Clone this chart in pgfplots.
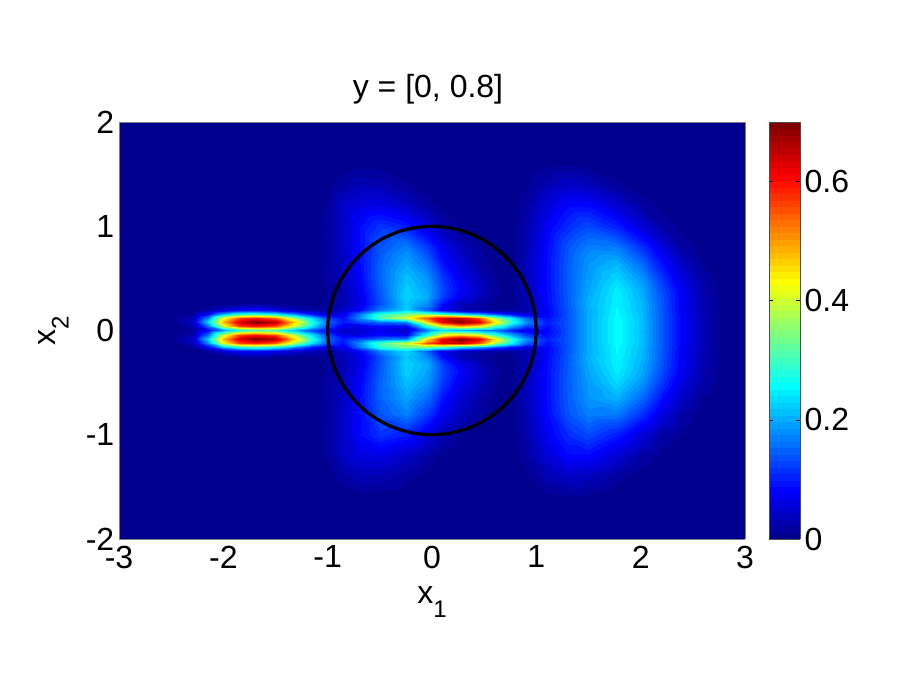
\documentclass[border=0pt]{standalone}
\usepackage{fontspec}
\setmainfont{Liberation Sans}
\usepackage{pgfplots}
\usepackage{pgfplotstable}
\pgfplotsset{compat=1.18}
\pgfplotsset{/pgf/number format/assume math mode=true,
 colormap={jetm}{rgb255(0)=(0,0,143) rgb255(7)=(0,0,255) rgb255(23)=(0,255,255) rgb255(39)=(255,255,0) rgb255(55)=(255,0,0) rgb255(63)=(128,0,0)},
 colormap={jet64}{samples of colormap=(64 of jetm)}}
\newcommand{\tfont}{\fontsize{24}{26}\selectfont}
\newcommand{\subone}[1]{\raisebox{-0.42em}{\fontsize{18}{20}\selectfont #1}}
\pgfplotstableread{
x y v
-3 0 0
-2.5 0 .001
-2.3 0 .01
-2.15 0 .08
-2 0 .18
-1.85 0 .27
-1.7 0 .3
-1.5 0 .3
-1.3 0 .2
-1.15 0 .13
-1 0 .08
-.85 0 .04
-.7 0 .05
-.5 0 .07
-.25 0 .04
-.05 0 .17
.1 0 .24
.27 0 .21
.45 0 .18
.6 0 .16
.75 0 .11
.9 0 .06
1.1 0 .08
1.3 0 .14
1.5 0 .2
1.77 0 .26
2 0 .215
2.2 0 .14
2.4 0 .08
2.6 0 .03
2.8 0 .004
3 0 0
-3 .04 0
-2.5 .04 .002
-2.3 .04 .025
-2.15 .04 .16
-2 .04 .4
-1.85 .04 .56
-1.7 .04 .6
-1.5 .04 .56
-1.3 .04 .38
-1.15 .04 .24
-1 .04 .13
-.85 .04 .07
-.7 .04 .06
-.5 .04 .09
-.25 .04 .08
-.05 .04 .28
.1 .04 .42
.27 .04 .48
.45 .04 .44
.6 .04 .31
.75 .04 .21
.9 .04 .13
1.1 .04 .09
1.3 .04 .14
1.5 .04 .2
1.77 .04 .26
2 .04 .215
2.2 .04 .14
2.4 .04 .08
2.6 .04 .03
2.8 .04 .004
3 .04 0
-3 .08 0
-2.5 .08 .004
-2.3 .08 .04
-2.15 .08 .23
-2 .08 .48
-1.85 .08 .63
-1.7 .08 .7
-1.5 .08 .66
-1.3 .08 .45
-1.15 .08 .28
-1 .08 .15
-.85 .08 .1
-.7 .08 .13
-.5 .08 .16
-.25 .08 .17
-.05 .08 .45
.1 .08 .62
.27 .08 .7
.45 .08 .63
.6 .08 .45
.75 .08 .3
.9 .08 .18
1.1 .08 .1
1.3 .08 .14
1.5 .08 .2
1.77 .08 .26
2 .08 .215
2.2 .08 .14
2.4 .08 .08
2.6 .08 .03
2.8 .08 .004
3 .08 0
-3 .12 0
-2.5 .12 .003
-2.3 .12 .03
-2.15 .12 .18
-2 .12 .42
-1.85 .12 .56
-1.7 .12 .59
-1.5 .12 .54
-1.3 .12 .36
-1.15 .12 .23
-1 .12 .13
-.85 .12 .09
-.7 .12 .18
-.5 .12 .31
-.25 .12 .4
-.05 .12 .55
.1 .12 .63
.27 .12 .64
.45 .12 .55
.6 .12 .38
.75 .12 .27
.9 .12 .15
1.1 .12 .09
1.3 .12 .14
1.5 .12 .2
1.77 .12 .26
2 .12 .215
2.2 .12 .14
2.4 .12 .08
2.6 .12 .03
2.8 .12 .004
3 .12 0
-3 .16 0
-2.5 .16 .001
-2.3 .16 .01
-2.15 .16 .08
-2 .16 .2
-1.85 .16 .28
-1.7 .16 .3
-1.5 .16 .26
-1.3 .16 .17
-1.15 .16 .1
-1 .16 .06
-.85 .16 .07
-.7 .16 .16
-.5 .16 .29
-.25 .16 .34
-.05 .16 .35
.1 .16 .31
.27 .16 .25
.45 .16 .2
.6 .16 .14
.75 .16 .1
.9 .16 .06
1.1 .16 .08
1.3 .16 .14
1.5 .16 .2
1.77 .16 .255
2 .16 .213
2.2 .16 .14
2.4 .16 .078
2.6 .16 .028
2.8 .16 .004
3 .16 0
-3 .2 0
-2.5 .2 0
-2.3 .2 .002
-2.15 .2 .015
-2 .2 .05
-1.85 .2 .08
-1.7 .2 .09
-1.5 .2 .07
-1.3 .2 .04
-1.15 .2 .025
-1 .2 .02
-.85 .2 .045
-.7 .2 .08
-.5 .2 .17
-.25 .2 .23
-.05 .2 .15
.1 .2 .07
.27 .2 .035
.45 .2 .022
.6 .2 .014
.75 .2 .014
.9 .2 .025
1.1 .2 .08
1.3 .2 .14
1.5 .2 .2
1.77 .2 .255
2 .2 .21
2.2 .2 .138
2.4 .2 .076
2.6 .2 .028
2.8 .2 .003
3 .2 0
-3 .25 0
-2.5 .25 0
-2.3 .25 0
-2.15 .25 .001
-2 .25 .004
-1.85 .25 .01
-1.7 .25 .015
-1.5 .25 .01
-1.3 .25 .005
-1.15 .25 .004
-1 .25 .014
-.85 .25 .032
-.7 .25 .062
-.5 .25 .135
-.25 .25 .22
-.05 .25 .18
.1 .25 .09
.27 .25 .035
.45 .25 .017
.6 .25 .007
.75 .25 .004
.9 .25 .03
1.1 .25 .085
1.3 .25 .145
1.5 .25 .205
1.77 .25 .25
2 .25 .21
2.2 .25 .138
2.4 .25 .076
2.6 .25 .027
2.8 .25 .003
3 .25 0
-3 .32 0
-2.5 .32 0
-2.3 .32 0
-2.15 .32 0
-2 .32 0
-1.85 .32 0
-1.7 .32 0
-1.5 .32 0
-1.3 .32 0
-1.15 .32 0
-1 .32 .012
-.85 .32 .03
-.7 .32 .065
-.5 .32 .14
-.25 .32 .23
-.05 .32 .2
.1 .32 .125
.27 .32 .07
.45 .32 .035
.6 .32 .012
.75 .32 .003
.9 .32 .03
1.1 .32 .085
1.3 .32 .145
1.5 .32 .2
1.77 .32 .25
2 .32 .205
2.2 .32 .135
2.4 .32 .075
2.6 .32 .027
2.8 .32 .003
3 .32 0
-3 .4 0
-2.5 .4 0
-2.3 .4 0
-2.15 .4 0
-2 .4 0
-1.85 .4 0
-1.7 .4 0
-1.5 .4 0
-1.3 .4 0
-1.15 .4 .002
-1 .4 .013
-.85 .4 .035
-.7 .4 .07
-.5 .4 .145
-.25 .4 .225
-.05 .4 .195
.1 .4 .13
.27 .4 .08
.45 .4 .04
.6 .4 .014
.75 .4 .004
.9 .4 .035
1.1 .4 .09
1.3 .4 .145
1.5 .4 .195
1.77 .4 .245
2 .4 .2
2.2 .4 .13
2.4 .4 .07
2.6 .4 .025
2.8 .4 .003
3 .4 0
-3 .5 0
-2.5 .5 0
-2.3 .5 0
-2.15 .5 0
-2 .5 0
-1.85 .5 0
-1.7 .5 0
-1.5 .5 0
-1.3 .5 0
-1.15 .5 .003
-1 .5 .015
-.85 .5 .04
-.7 .5 .08
-.5 .5 .15
-.25 .5 .215
-.05 .5 .185
.1 .5 .12
.27 .5 .07
.45 .5 .036
.6 .5 .012
.75 .5 .003
.9 .5 .035
1.1 .5 .09
1.3 .5 .145
1.5 .5 .19
1.77 .5 .23
2 .5 .185
2.2 .5 .115
2.4 .5 .06
2.6 .5 .02
2.8 .5 .002
3 .5 0
-3 .65 0
-2.5 .65 0
-2.3 .65 0
-2.15 .65 0
-2 .65 0
-1.85 .65 0
-1.7 .65 0
-1.5 .65 0
-1.3 .65 0
-1.15 .65 .003
-1 .65 .016
-.85 .65 .042
-.7 .65 .085
-.5 .65 .15
-.25 .65 .195
-.05 .65 .155
.1 .65 .095
.27 .65 .052
.45 .65 .02
.6 .65 .006
.75 .65 .002
.9 .65 .035
1.1 .65 .09
1.3 .65 .145
1.5 .65 .185
1.77 .65 .205
2 .65 .155
2.2 .65 .09
2.4 .65 .04
2.6 .65 .01
2.8 .65 .001
3 .65 0
-3 .8 0
-2.5 .8 0
-2.3 .8 0
-2.15 .8 0
-2 .8 0
-1.85 .8 0
-1.7 .8 0
-1.5 .8 0
-1.3 .8 0
-1.15 .8 .003
-1 .8 .016
-.85 .8 .045
-.7 .8 .085
-.5 .8 .14
-.25 .8 .17
-.05 .8 .12
.1 .8 .072
.27 .8 .036
.45 .8 .013
.6 .8 .003
.75 .8 .001
.9 .8 .03
1.1 .8 .085
1.3 .8 .14
1.5 .8 .17
1.77 .8 .165
2 .8 .115
2.2 .8 .06
2.4 .8 .02
2.6 .8 .004
2.8 .8 0
3 .8 0
-3 1 0
-2.5 1 0
-2.3 1 0
-2.15 1 0
-2 1 0
-1.85 1 0
-1.7 1 0
-1.5 1 0
-1.3 1 0
-1.15 1 .003
-1 1 .016
-.85 1 .045
-.7 1 .085
-.5 1 .115
-.25 1 .1
-.05 1 .06
.1 1 .026
.27 1 .008
.45 1 .002
.6 1 0
.75 1 0
.9 1 .025
1.1 1 .075
1.3 1 .11
1.5 1 .13
1.77 1 .1
2 1 .055
2.2 1 .02
2.4 1 .005
2.6 1 0
2.8 1 0
3 1 0
-3 1.2 0
-2.5 1.2 0
-2.3 1.2 0
-2.15 1.2 0
-2 1.2 0
-1.85 1.2 0
-1.7 1.2 0
-1.5 1.2 0
-1.3 1.2 0
-1.15 1.2 .002
-1 1.2 .013
-.85 1.2 .045
-.7 1.2 .06
-.5 1.2 .065
-.25 1.2 .042
-.05 1.2 .018
.1 1.2 .005
.27 1.2 .001
.45 1.2 0
.6 1.2 0
.75 1.2 0
.9 1.2 .018
1.1 1.2 .055
1.3 1.2 .085
1.5 1.2 .085
1.77 1.2 .05
2 1.2 .02
2.2 1.2 .005
2.4 1.2 0
2.6 1.2 0
2.8 1.2 0
3 1.2 0
-3 1.4 0
-2.5 1.4 0
-2.3 1.4 0
-2.15 1.4 0
-2 1.4 0
-1.85 1.4 0
-1.7 1.4 0
-1.5 1.4 0
-1.3 1.4 0
-1.15 1.4 0
-1 1.4 .006
-.85 1.4 .018
-.7 1.4 .032
-.5 1.4 .03
-.25 1.4 .014
-.05 1.4 .003
.1 1.4 0
.27 1.4 0
.45 1.4 0
.6 1.4 0
.75 1.4 0
.9 1.4 .008
1.1 1.4 .028
1.3 1.4 .045
1.5 1.4 .038
1.77 1.4 .015
2 1.4 .003
2.2 1.4 0
2.4 1.4 0
2.6 1.4 0
2.8 1.4 0
3 1.4 0
-3 1.6 0
-2.5 1.6 0
-2.3 1.6 0
-2.15 1.6 0
-2 1.6 0
-1.85 1.6 0
-1.7 1.6 0
-1.5 1.6 0
-1.3 1.6 0
-1.15 1.6 0
-1 1.6 0
-.85 1.6 .003
-.7 1.6 .006
-.5 1.6 .004
-.25 1.6 .001
-.05 1.6 0
.1 1.6 0
.27 1.6 0
.45 1.6 0
.6 1.6 0
.75 1.6 0
.9 1.6 .002
1.1 1.6 .007
1.3 1.6 .01
1.5 1.6 .006
1.77 1.6 .001
2 1.6 0
2.2 1.6 0
2.4 1.6 0
2.6 1.6 0
2.8 1.6 0
3 1.6 0
-3 2 0
-2.5 2 0
-2.3 2 0
-2.15 2 0
-2 2 0
-1.85 2 0
-1.7 2 0
-1.5 2 0
-1.3 2 0
-1.15 2 0
-1 2 0
-.85 2 0
-.7 2 0
-.5 2 0
-.25 2 0
-.05 2 0
.1 2 0
.27 2 0
.45 2 0
.6 2 0
.75 2 0
.9 2 0
1.1 2 0
1.3 2 0
1.5 2 0
1.77 2 0
2 2 0
2.2 2 0
2.4 2 0
2.6 2 0
2.8 2 0
3 2 0
}\fielddata
\begin{document}
\begin{tikzpicture}
\path[use as bounding box] (0,0) rectangle (685.5pt,513.75pt);
\begin{axis}[
 at={(89.25pt,109.5pt)},anchor=south west,
 scale only axis,width=469.5pt,height=312.75pt,
 view={0}{90},
 xmin=-3,xmax=3,ymin=-2,ymax=2,
 xtick={-3,-2,-1,0,1,2,3},ytick={-2,-1,0,1,2},
 major tick length=0pt,
 axis line style={draw=black!50,line width=0.4pt},
 tick label style={font=\tfont},
 xticklabel style={yshift=-1.5pt},
 xlabel={x\subone{1}},ylabel={x\subone{2}},
 label style={font=\tfont},
 xlabel style={yshift=-7pt},
 ylabel style={yshift=6pt},
 title={y = [0, 0.8]},title style={font=\tfont,yshift=4pt,xshift=-3pt},
 colormap name=jet64,
 colormap access=piecewise constant,
 point meta min=0,point meta max=0.7,
 colorbar,
 colorbar style={at={(1.0383,0)},anchor=south west,width=23.25pt,
  ytick={0,0.2,0.4,0.6},tick align=inside,major tick length=3pt,
  tick style={black,line width=0.4pt},
  yticklabel style={font=\tfont},
  axis line style={draw=black!70,line width=0.4pt}},
]
\addplot3[surf,shader=interp,mesh/cols=32] table[x=x,y=y,z=v]{\fielddata};
\addplot3[surf,shader=interp,mesh/cols=32] table[x=x,y expr=-\thisrow{y},z=v]{\fielddata};
\addplot3[black,line width=2.4pt,smooth,no marks,point meta=none] coordinates {
(1,0,.7)(.9848,.1736,.7)(.9397,.342,.7)(.866,.5,.7)(.766,.6428,.7)(.6428,.766,.7)(.5,.866,.7)(.342,.9397,.7)(.1736,.9848,.7)(0,1,.7)
(-.1736,.9848,.7)(-.342,.9397,.7)(-.5,.866,.7)(-.6428,.766,.7)(-.766,.6428,.7)(-.866,.5,.7)(-.9397,.342,.7)(-.9848,.1736,.7)(-1,0,.7)
(-.9848,-.1736,.7)(-.9397,-.342,.7)(-.866,-.5,.7)(-.766,-.6428,.7)(-.6428,-.766,.7)(-.5,-.866,.7)(-.342,-.9397,.7)(-.1736,-.9848,.7)(0,-1,.7)
(.1736,-.9848,.7)(.342,-.9397,.7)(.5,-.866,.7)(.6428,-.766,.7)(.766,-.6428,.7)(.866,-.5,.7)(.9397,-.342,.7)(.9848,-.1736,.7)(1,0,.7)};
\end{axis}
\end{tikzpicture}
\end{document}
